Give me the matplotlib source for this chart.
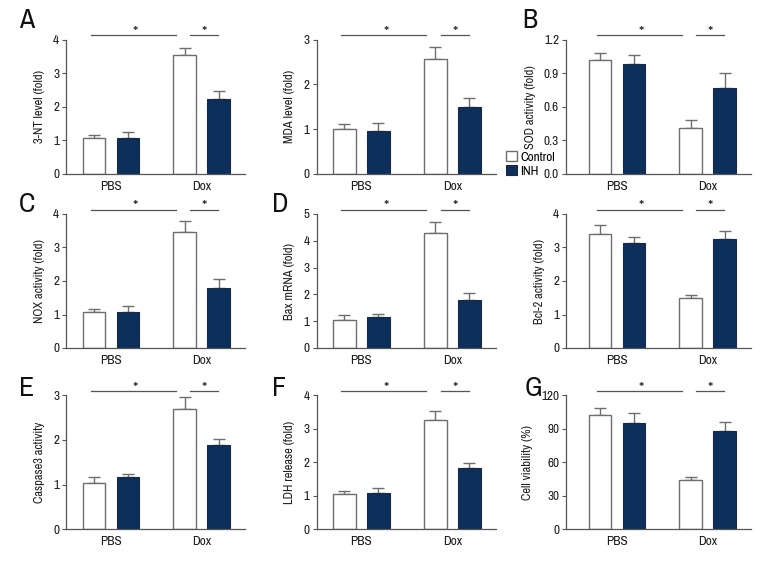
import matplotlib
matplotlib.use("Agg")
import matplotlib.pyplot as plt
from matplotlib.patches import Patch
from matplotlib import font_manager
import numpy as np

# pick a condensed font if one is installed
cond = None
for f in font_manager.fontManager.ttflist:
    if ("narrow" in f.name.lower() or "condensed" in f.name.lower()) and f.style == "normal":
        cond = (f.name, "normal"); break
if cond is None:
    for f in font_manager.fontManager.ttflist:
        st = str(f.stretch).lower()
        if st in ("condensed", "semi-condensed", "extra-condensed", "500", "300", "200") and f.style == "normal":
            cond = (f.name, f.stretch); break
if cond is None:
    cond = ("Liberation Sans", "normal")
plt.rcParams['font.family'] = [cond[0], 'DejaVu Sans']
plt.rcParams['font.stretch'] = cond[1]

groups = ["PBS", "Dox"]
series = ["Control", "INH"]

nt_ctrl = [1.06, 3.53]; nt_ctrl_err = [1.15, 3.76]
nt_inh = [1.08, 2.24]; nt_inh_err = [1.24, 2.46]

mda_ctrl = [1.00, 2.57]; mda_ctrl_err = [1.12, 2.83]
mda_inh = [0.955, 1.50]; mda_inh_err = [1.14, 1.69]

sod_ctrl = [1.013, 0.413]; sod_ctrl_err = [1.084, 0.484]
sod_inh = [0.983, 0.763]; sod_inh_err = [1.066, 0.897]

nox_ctrl = [1.065, 3.45]; nox_ctrl_err = [1.15, 3.78]
nox_inh = [1.08, 1.78]; nox_inh_err = [1.24, 2.07]

bax_ctrl = [1.06, 4.30]; bax_ctrl_err = [1.24, 4.72]
bax_inh = [1.16, 1.78]; bax_inh_err = [1.26, 2.07]

bcl_ctrl = [3.39, 1.48]; bcl_ctrl_err = [3.66, 1.59]
bcl_inh = [3.14, 3.25]; bcl_inh_err = [3.31, 3.50]

casp_ctrl = [1.03, 2.70]; casp_ctrl_err = [1.16, 2.955]
casp_inh = [1.16, 1.89]; casp_inh_err = [1.23, 2.03]

ldh_ctrl = [1.045, 3.26]; ldh_ctrl_err = [1.15, 3.53]
ldh_inh = [1.09, 1.82]; ldh_inh_err = [1.22, 1.97]

via_ctrl = [102, 43.9]; via_ctrl_err = [109, 47.2]
via_inh = [95, 88]; via_inh_err = [104.5, 96.4]

nt_ticks = [0, 1, 2, 3, 4]
mda_ticks = [0, 1, 2, 3]
sod_ticks = [0.0, 0.3, 0.6, 0.9, 1.2]
nox_ticks = [0, 1, 2, 3, 4]
bax_ticks = [0, 1, 2, 3, 4, 5]
bcl_ticks = [0, 1, 2, 3, 4]
casp_ticks = [0, 1, 2, 3]
ldh_ticks = [0, 1, 2, 3, 4]
via_ticks = [0, 30, 60, 90, 120]

panels = [
    ("A", "3-NT level (fold)", nt_ticks, "{:g}", nt_ctrl, nt_ctrl_err, nt_inh, nt_inh_err),
    (None, "MDA level (fold)", mda_ticks, "{:g}", mda_ctrl, mda_ctrl_err, mda_inh, mda_inh_err),
    ("B", "SOD activity (fold)", sod_ticks, "{:.1f}", sod_ctrl, sod_ctrl_err, sod_inh, sod_inh_err),
    ("C", "NOX activity (fold)", nox_ticks, "{:g}", nox_ctrl, nox_ctrl_err, nox_inh, nox_inh_err),
    ("D", "Bax mRNA (fold)", bax_ticks, "{:g}", bax_ctrl, bax_ctrl_err, bax_inh, bax_inh_err),
    (None, "Bcl-2 activity (fold)", bcl_ticks, "{:g}", bcl_ctrl, bcl_ctrl_err, bcl_inh, bcl_inh_err),
    ("E", "Caspase3 activity", casp_ticks, "{:g}", casp_ctrl, casp_ctrl_err, casp_inh, casp_inh_err),
    ("F", "LDH release (fold)", ldh_ticks, "{:g}", ldh_ctrl, ldh_ctrl_err, ldh_inh, ldh_inh_err),
    ("G", "Cell viability (%)", via_ticks, "{:g}", via_ctrl, via_ctrl_err, via_inh, via_inh_err),
]

W, H = 780, 576
fig = plt.figure(figsize=(W / 100, H / 100), dpi=100)

col_left = [66, 316.7, 566]
col_width = [179, 179.3, 185]
col_xlim = [(-0.497, 1.48), (-0.49, 1.48), (-0.565, 1.48)]
row_top = [39.5, 214, 395.3]
row_bottom = [174, 348, 529.3]
letter_pos = {"A": (19, 20), "B": (522, 20), "C": (19, 205), "D": (272, 205),
              "E": (19, 388), "F": (272, 388), "G": (525, 388)}

navy = "#0c2f5c"
edge_gray = "#6e6e6e"
axis_gray = "#555555"
text_col = "#1e1e1e"
fs = 9.5
fs_lab = 9
bar_w = 0.25
off = 0.1875
x = np.arange(len(groups))

for i, (letter, ylabel, ticks, fmt, c, ce, n, ne) in enumerate(panels):
    r, col = divmod(i, 3)
    left = col_left[col] / W
    bottom = 1 - row_bottom[r] / H
    height = (row_bottom[r] - row_top[r]) / H
    ax = fig.add_axes([left, bottom, col_width[col] / W, height])
    c = np.array(c); ce = np.array(ce); n = np.array(n); ne = np.array(ne)
    ax.bar(x - off, c, bar_w, color="white", edgecolor=edge_gray, linewidth=1.0, zorder=2)
    ax.bar(x + off, n, bar_w, color=navy, edgecolor="#1b2a40", linewidth=0.8, zorder=2)
    ax.errorbar(x - off, c, yerr=[np.zeros_like(c), ce - c], fmt="none", ecolor=edge_gray,
                elinewidth=1.0, capsize=4, capthick=1.0, zorder=1)
    ax.errorbar(x + off, n, yerr=[np.zeros_like(n), ne - n], fmt="none", ecolor=edge_gray,
                elinewidth=1.0, capsize=4, capthick=1.0, zorder=1)
    ax.set_xlim(*col_xlim[col])
    ax.set_ylim(ticks[0], ticks[-1])
    ax.set_yticks(ticks)
    ax.set_yticklabels([fmt.format(t) for t in ticks])
    ax.set_xticks(x)
    ax.set_xticklabels(groups)
    for s in ["top", "right"]:
        ax.spines[s].set_visible(False)
    for s in ["left", "bottom"]:
        ax.spines[s].set_color(axis_gray)
        ax.spines[s].set_linewidth(0.9)
    ax.tick_params(axis="y", direction="out", length=3, width=0.8, color=axis_gray,
                   labelsize=fs, pad=2, labelcolor=text_col)
    ax.tick_params(axis="x", length=0, labelsize=fs, pad=5, labelcolor=text_col)
    ax.set_ylabel(ylabel, fontsize=fs_lab, color=text_col, labelpad=6)
    tr = ax.get_xaxis_transform()
    ly = 1 + 4.3 / (row_bottom[r] - row_top[r])
    sy = 1 + 7.0 / (row_bottom[r] - row_top[r])
    ax.plot([-0.22, 0.713], [ly, ly], color=axis_gray, lw=0.9, transform=tr, clip_on=False)
    ax.plot([0.875, 1.183], [ly, ly], color=axis_gray, lw=0.9, transform=tr, clip_on=False)
    ax.text(0.27, sy, "*", transform=tr, ha="center", va="center", fontsize=12, color="#333333")
    ax.text(1.03, sy, "*", transform=tr, ha="center", va="center", fontsize=12, color="#333333")
    if letter:
        lx, lyy = letter_pos[letter]
        fig.text(lx / W, 1 - lyy / H, letter, fontsize=20, ha="left", va="center", color="#111111")

handles = [Patch(facecolor="white", edgecolor=edge_gray, linewidth=1.0, label="Control"),
           Patch(facecolor=navy, edgecolor="#1b2a40", linewidth=0.8, label="INH")]
fig.legend(handles=handles, loc="upper left", bbox_to_anchor=(506 / W, 1 - 151 / H),
           frameon=False, fontsize=fs, handlelength=0.8, handleheight=0.8,
           handletextpad=0.3, labelspacing=0.2, borderpad=0, borderaxespad=0)

fig.savefig("out.png", dpi=100)
